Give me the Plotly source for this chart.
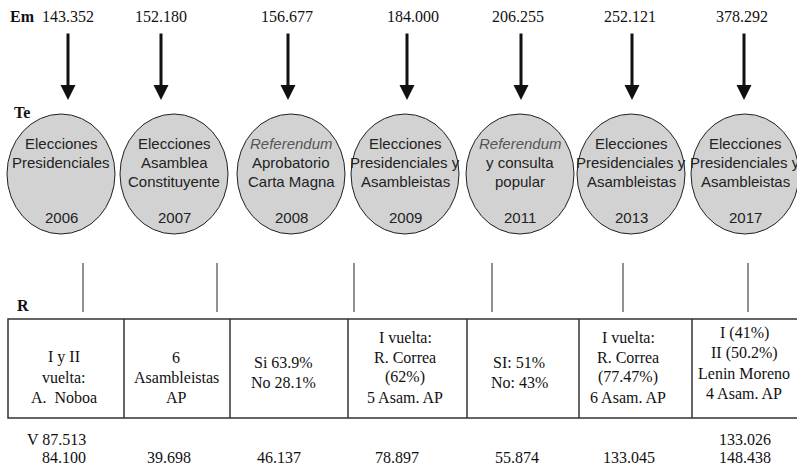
import plotly.graph_objects as go

# ---------------- data ----------------
years = ["2006", "2007", "2008", "2009", "2011", "2013", "2017"]
events = [
    ["Elecciones", "Presidenciales"],
    ["Elecciones", "Asamblea", "Constituyente"],
    ["<i>Referendum</i>", "Aprobatorio", "Carta Magna"],
    ["Elecciones", "Presidenciales y", "Asambleistas"],
    ["<i>Referendum</i>", "y consulta", "popular"],
    ["Elecciones", "Presidenciales y", "Asambleistas"],
    ["Elecciones", "Presidenciales y", "Asambleistas"],
]
electores = ["143.352", "152.180", "156.677", "184.000", "206.255", "252.121", "378.292"]
resultados = [
    ["I y II", "vuelta:", "A.  Noboa"],
    ["6", "Asambleistas", "AP"],
    ["Si 63.9%", "No 28.1%"],
    ["I vuelta:", "R. Correa", "(62%)", "5 Asam. AP"],
    ["SI: 51%", "No: 43%"],
    ["I vuelta:", "R. Correa", "(77.47%)", "6 Asam. AP"],
    ["I (41%)", "II (50.2%)", "Lenin Moreno", "4 Asam. AP"],
]
votos = [
    ["V 87.513", "84.100"],
    ["39.698"],
    ["46.137"],
    ["78.897"],
    ["55.874"],
    ["133.045"],
    ["133.026", "148.438"],
]
row_labels = ["Em", "Te", "R"]

# ---------------- layout positions (pixels) ----------------
W, H = 797, 468
num_x = [68, 161, 287, 413, 518, 630, 742]
arrow_x = [68, 161, 288, 407, 521, 632, 744]
circle_x = [61, 174, 291, 405, 520, 631, 745]
circle_rx, circle_ry, circle_cy = 54, 60, 174
conn_x = [83, 217, 354, 492, 623, 748]
col_edges = [8, 124, 230, 348, 467, 579, 692, 800]
cell_text_x = [64, 176, 283, 405, 519, 628, 744]
cell_mid_y = [377, 377, 372, 367, 372, 367, 363]
vote_x = [88, 169, 279, 397, 517, 629, 745]
table_top, table_bot = 319, 418

SERIF = "Liberation Serif, Times New Roman, serif"
NARROW = "Liberation Sans Narrow, Arial Narrow, Liberation Sans, sans-serif"

fig = go.Figure()
shapes = []
ann = []

# row labels
for lab, (lx, ly) in zip(row_labels, [(8, 16), (12, 112), (15, 305)]):
    ann.append(dict(x=lx, y=ly, text=f"<b>{lab}</b>", showarrow=False, xanchor="left",
                    yanchor="middle", font=dict(family=SERIF, size=16, color="#111")))

# top numbers and arrows
for x, xa, v in zip(num_x, arrow_x, electores):
    ann.append(dict(x=x, y=16, text=v, showarrow=False, xanchor="center", yanchor="middle",
                    font=dict(family=SERIF, size=16, color="#111")))
    ann.append(dict(x=xa, y=100, ax=xa, ay=32, axref="x", ayref="y", text="",
                    showarrow=True, arrowhead=2, arrowsize=1, arrowwidth=3,
                    arrowcolor="#111", standoff=0))

# circles
for cx, ev, yr in zip(circle_x, events, years):
    shapes.append(dict(type="circle", xref="x", yref="y",
                       x0=cx - circle_rx, x1=cx + circle_rx,
                       y0=circle_cy - circle_ry, y1=circle_cy + circle_ry,
                       fillcolor="#d2d2d2", line=dict(color="#222", width=1)))
    for i, line in enumerate(ev):
        col = "#555" if line.startswith("<i>") else "#222"
        ann.append(dict(x=cx, y=143 + i * 19, text=line, showarrow=False,
                        xanchor="center", yanchor="middle",
                        font=dict(family=NARROW, size=15, color=col)))
    ann.append(dict(x=cx, y=217, text=yr, showarrow=False, xanchor="center",
                    yanchor="middle", font=dict(family=NARROW, size=15, color="#222")))

# connector lines
for x in conn_x:
    shapes.append(dict(type="line", xref="x", yref="y", x0=x, x1=x, y0=263, y1=312,
                       line=dict(color="#222", width=1)))

# table
shapes.append(dict(type="rect", xref="x", yref="y", x0=col_edges[0], x1=col_edges[-1],
                   y0=table_top, y1=table_bot, line=dict(color="#333", width=1.5)))
for x in col_edges[1:-1]:
    shapes.append(dict(type="line", xref="x", yref="y", x0=x, x1=x, y0=table_top,
                       y1=table_bot, line=dict(color="#333", width=1.5)))

for tx, my, lines in zip(cell_text_x, cell_mid_y, resultados):
    n = len(lines)
    for i, line in enumerate(lines):
        ann.append(dict(x=tx, y=my + (i - (n - 1) / 2) * 20, text=line, showarrow=False,
                        xanchor="center", yanchor="middle",
                        font=dict(family=SERIF, size=16, color="#111")))

# bottom values
for k, (vx, vals) in enumerate(zip(vote_x, votos)):
    n = len(vals)
    for i, v in enumerate(vals):
        y = 457 - (n - 1 - i) * 18
        ann.append(dict(x=vx, y=y, text=v, showarrow=False,
                        xanchor="right" if k == 0 else "center", yanchor="middle",
                        font=dict(family=SERIF, size=16, color="#111")))

fig.update_layout(
    width=W, height=H, margin=dict(l=0, r=0, t=0, b=0),
    paper_bgcolor="white", plot_bgcolor="white",
    xaxis=dict(range=[0, W], visible=False, fixedrange=True),
    yaxis=dict(range=[H, 0], visible=False, fixedrange=True),
    shapes=shapes, annotations=ann, showlegend=False,
)
fig.write_html("out.html", config={"displayModeBar": False},
               post_script="document.body.style.margin='0';document.body.style.overflow='hidden';")
